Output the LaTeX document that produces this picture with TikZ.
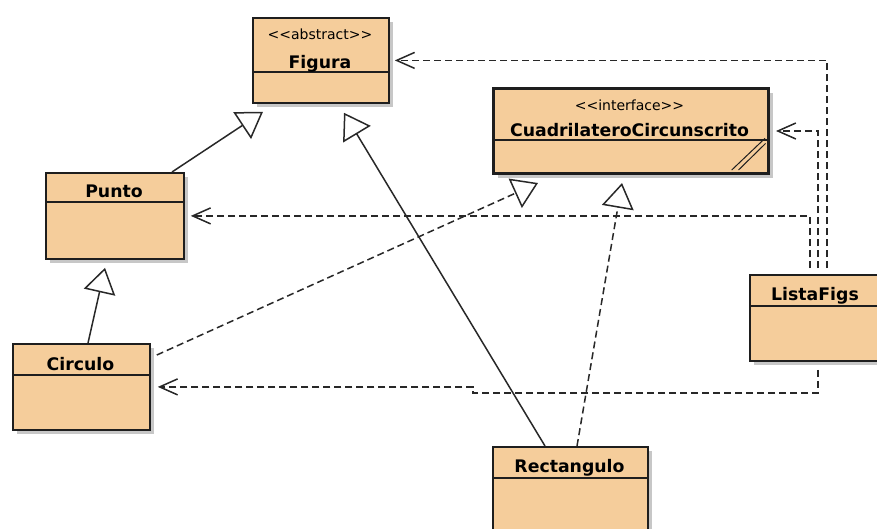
\documentclass[tikz,border=0pt]{standalone}
\usepackage{fontspec}
\setmainfont{DejaVu Sans}
\usetikzlibrary{arrows.meta,shadows,calc}
\definecolor{umlfill}{RGB}{245,205,155}
\definecolor{umlline}{RGB}{30,30,30}
\definecolor{conline}{RGB}{40,40,40}
\tikzset{
  cls/.style={draw=umlline, line width=1.8pt, fill=umlfill, rectangle, inner sep=0pt, anchor=north west,
    drop shadow={shadow xshift=4pt, shadow yshift=-4pt, fill=black!22, draw=none, opacity=1}},
  thickcls/.style={cls, line width=3pt},
  divider/.style={draw=umlline, line width=1.4pt},
  nm/.style={font=\fontsize{17.3}{20}\selectfont\bfseries, inner sep=0pt, anchor=base, text=black},
  st/.style={font=\fontsize{14}{16}\selectfont, inner sep=0pt, anchor=base, text=black},
  gen/.style={draw=conline, line width=1.5pt, -{Triangle[open, length=25pt, width=32pt, fill=white]}},
  real/.style={gen, dash pattern=on 7pt off 4pt},
  dep/.style={draw=conline, line width=1.5pt, dash pattern=on 7pt off 4pt, -{Straight Barb[length=18pt, width=16pt]}}
}
\begin{document}
\begin{tikzpicture}[x=1pt, y=-1pt]
\useasboundingbox (0,0) rectangle (877,528);
\fill[white] (0,0) rectangle (877,528);

% classes
\node[cls, minimum width=136pt, minimum height=85pt] (fig) at (252,17) {};
\draw[divider] (fig.west |- 0,72) -- (fig.east |- 0,72);
\node[st] (figS) at (320,39) {<\kern0pt<abstract>\kern0pt>};
\node[nm] (figN) at (320,68) {Figura};

\node[thickcls, minimum width=275pt, minimum height=85pt] (cuad) at (492,87) {};
\draw[divider] (cuad.west |- 0,140) -- (cuad.east |- 0,140);
\draw[umlline, line width=1pt] (731.7,170) -- (765,138.3);
\draw[umlline, line width=1pt] (738.5,170) -- (765.5,143.5);
\node[st] (cuadS) at (629.5,110) {<\kern0pt<interface>\kern0pt>};
\node[nm] (cuadN) at (629.5,136) {CuadrilateroCircunscrito};

\node[cls, minimum width=138pt, minimum height=86pt] (punto) at (45,172) {};
\draw[divider] (punto.west |- 0,202) -- (punto.east |- 0,202);
\node[nm] (puntoN) at (114,197) {Punto};

\node[cls, minimum width=137pt, minimum height=86pt] (circ) at (12,343) {};
\draw[divider] (circ.west |- 0,375) -- (circ.east |- 0,375);
\node[nm] (circN) at (80.5,370) {Circulo};

\node[cls, minimum width=155pt, minimum height=100pt] (rect) at (492,446) {};
\draw[divider] (rect.west |- 0,478) -- (rect.east |- 0,478);
\node[nm] (rectN) at (569.5,472.7) {Rectangulo};

\node[cls, minimum width=132pt, minimum height=86pt] (lista) at (749,274) {};
\draw[divider] (lista.west |- 0,306) -- (lista.east |- 0,306);
\node[nm] (listaN) at (815,300) {ListaFigs};

% generalizations
\draw[gen] ($(punto.north west)+(127,0)$) -- ($(fig.south west)+(11,8)$);
\draw[gen] ($(circ.north west)+(76,0)$) -- ($(punto.south west)+(60,8)$);
\draw[gen] ($(rect.north west)+(53,0)$) -- ($(fig.south west)+(92,9)$);

% realizations
\draw[real] ($(rect.north west)+(85,0)$) -- ($(cuad.south west)+(130,8)$);
\draw[real] ($(circ.north east)+(6,12)$) -- ($(cuad.south west)+(46,8)$);

% dependencies
\draw[dep] ($(lista.north west)+(78,-6)$) |- ($(fig.east)+(5,0)$);
\draw[dep] ($(lista.north west)+(69,-6)$) |- ($(cuad.east)+(6,0)$);
\draw[dep] ($(lista.north west)+(61,-6)$) |- ($(punto.east)+(6,0)$);
\coordinate (jog) at (473,393);
\draw[dep] ($(lista.south west)+(69,8)$) |- (jog) |- ($(circ.east)+(7,0)$);
\end{tikzpicture}
\end{document}
